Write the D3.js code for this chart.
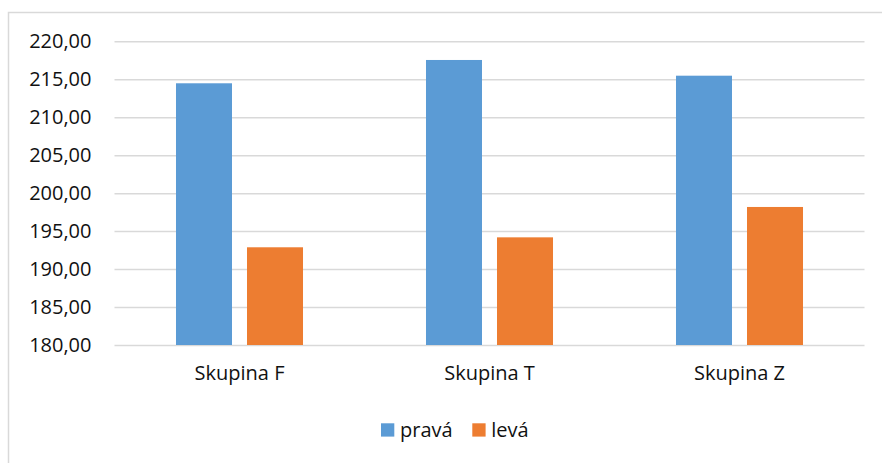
<!DOCTYPE html>
<html>
<head>
<meta charset="utf-8">
<script src="https://cdn.jsdelivr.net/npm/d3@7"></script>
<style>
  html, body { margin: 0; padding: 0; background: #fff; }
  svg { display: block; }
  text { font-family: "Open Sans", "Noto Sans", sans-serif; fill: #111; }
</style>
</head>
<body>
<svg id="chart" width="882" height="463"></svg>
<script>
// Group names, series and their values
const categories = ["Skupina F", "Skupina T", "Skupina Z"];
const seriesNames = ["pravá", "levá"];
const prava = [214.47, 217.54, 215.47];
const leva = [192.87, 194.18, 198.18];
const yTicks = [180, 185, 190, 195, 200, 205, 210, 215, 220];
const colors = ["#5b9bd5", "#ed7d31"];

const values = [prava, leva];
const rows = categories.map((c, i) => ({
  category: c,
  bars: seriesNames.map((s, j) => ({ series: s, value: values[j][i] }))
}));

const svg = d3.select("#chart");
const W = 882, H = 463;
const FS = 20;

// Outer chart frame
svg.append("path")
  .attr("d", `M8.5,${H} V12.5 H${W}`)
  .attr("fill", "none")
  .attr("stroke", "#d9d9d9")
  .attr("stroke-width", 1.5);

const plot = { left: 114.5, right: 864.5, top: 41.3, bottom: 345 };

const x0 = d3.scaleBand()
  .domain(categories)
  .range([plot.left, plot.right])
  .padding(0);

const x1 = d3.scaleBand()
  .domain(seriesNames)
  .range([0, x0.bandwidth()])
  .paddingInner(0.2113)
  .paddingOuter(0.866);

const y = d3.scaleLinear()
  .domain([180, 220])
  .range([plot.bottom, plot.top]);

const fmt = v => d3.format(".2f")(v).replace(".", ",");

// Horizontal gridlines with tick labels
const yAxis = d3.axisLeft(y)
  .tickValues(yTicks)
  .tickSize(-(plot.right - plot.left))
  .tickPadding(23)
  .tickFormat(fmt);

const gy = svg.append("g")
  .attr("transform", `translate(${plot.left},0)`)
  .call(yAxis);
gy.select(".domain").remove();
gy.selectAll(".tick line")
  .attr("stroke", "#d9d9d9")
  .attr("stroke-width", 1.5);
gy.selectAll(".tick text")
  .attr("font-size", FS)
  .style("font-family", "'Open Sans', sans-serif")
  .attr("fill", "#111");

// Bars
const groups = svg.append("g")
  .selectAll("g")
  .data(rows)
  .join("g")
  .attr("transform", d => `translate(${x0(d.category)},0)`);

groups.selectAll("rect")
  .data(d => d.bars)
  .join("rect")
  .attr("x", d => x1(d.series))
  .attr("width", x1.bandwidth())
  .attr("y", d => y(d.value))
  .attr("height", d => y(180) - y(d.value))
  .attr("fill", (d, i) => colors[i]);

// Category labels
const xAxis = d3.axisBottom(x0).tickSize(0).tickPadding(21);
const gx = svg.append("g")
  .attr("transform", `translate(0,${plot.bottom})`)
  .call(xAxis);
gx.select(".domain").remove();
gx.selectAll(".tick text")
  .attr("font-size", FS)
  .style("font-family", "'Open Sans', sans-serif")
  .attr("fill", "#111");

// Legend
const legendItems = [
  { name: seriesNames[0], color: colors[0], x: 381 },
  { name: seriesNames[1], color: colors[1], x: 472.3 }
];
const legend = svg.append("g");
const li = legend.selectAll("g")
  .data(legendItems)
  .join("g")
  .attr("transform", d => `translate(${d.x},423.3)`);
li.append("rect")
  .attr("width", 13.3)
  .attr("height", 13.3)
  .attr("fill", d => d.color);
li.append("text")
  .attr("x", 19)
  .attr("y", 13.6)
  .attr("font-size", FS)
  .text(d => d.name);
</script>
</body>
</html>
